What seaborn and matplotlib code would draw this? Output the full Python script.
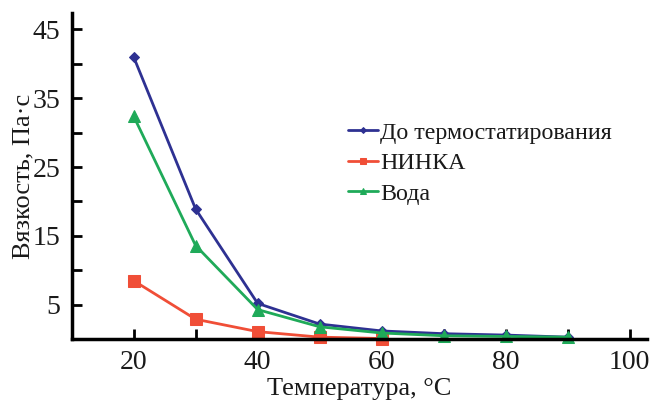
import matplotlib
matplotlib.use("Agg")
import matplotlib.pyplot as plt
import seaborn as sns
import pandas as pd

temps_blue = [20, 30, 40, 50, 60, 70, 80, 90]
vals_blue = [41.0, 18.9, 5.2, 2.2, 1.2, 0.8, 0.6, 0.3]
temps_red = [20, 30, 40, 50, 60]
vals_red = [8.5, 2.9, 1.1, 0.3, 0.1]
temps_green = [20, 30, 40, 50, 60, 70, 80, 90]
vals_green = [32.4, 13.6, 4.3, 1.8, 0.9, 0.5, 0.4, 0.3]

names = ["До термостатирования", "НИНКА", "Вода"]
colors = ["#2E3192", "#F04E37", "#1FAA59"]
markers = ["D", "s", "^"]
msizes = [5, 8, 8]

xticks = [20, 40, 60, 80, 100]
yticks = [5, 15, 25, 35, 45]

sns.set_theme(style="ticks")
plt.rcParams["font.family"] = ["Liberation Serif", "DejaVu Serif"]

df = pd.concat([
    pd.DataFrame({"T": temps_blue, "V": vals_blue, "s": names[0]}),
    pd.DataFrame({"T": temps_red, "V": vals_red, "s": names[1]}),
    pd.DataFrame({"T": temps_green, "V": vals_green, "s": names[2]}),
])

fig = plt.figure(figsize=(6.51, 4.0), dpi=100)
ax = fig.add_axes([0.110, 0.152, 0.884, 0.816])

for name, c, m, ms in zip(names, colors, markers, msizes):
    sub = df[df["s"] == name]
    sns.lineplot(data=sub, x="T", y="V", ax=ax, color=c, marker=m,
                 markersize=ms, markeredgecolor=c, linewidth=2, label=name,
                 clip_on=False)

ax.set_xlim(10, 102.8)
ax.set_ylim(0, 47.4)
ax.set_xticks(xticks)
ax.set_xticks([30, 50, 70, 90], minor=True)
ax.set_yticks(yticks)
ax.set_yticks([10, 20, 30, 40], minor=True)
ax.tick_params(which="both", direction="in", length=7, width=2, color="black",
               labelsize=20, pad=8, labelcolor="#1a1a1a")
for s in ["top", "right"]:
    ax.spines[s].set_visible(False)
for s in ["left", "bottom"]:
    ax.spines[s].set_linewidth(2.5)
    ax.spines[s].set_color("black")

ax.set_xlabel("Температура, °С", fontsize=19, labelpad=2, color="#1a1a1a")
ax.set_ylabel("Вязкость, Па·с", fontsize=19, labelpad=-1, color="#1a1a1a")

leg = ax.legend(loc="upper left", bbox_to_anchor=(0.463, 0.695), frameon=False,
                fontsize=17.3, handlelength=1.25, handletextpad=0.1,
                labelspacing=0.36, borderaxespad=0, markerscale=0.6)
for t in leg.get_texts():
    t.set_color("#1a1a1a")

fig.savefig("out.png", dpi=100)
